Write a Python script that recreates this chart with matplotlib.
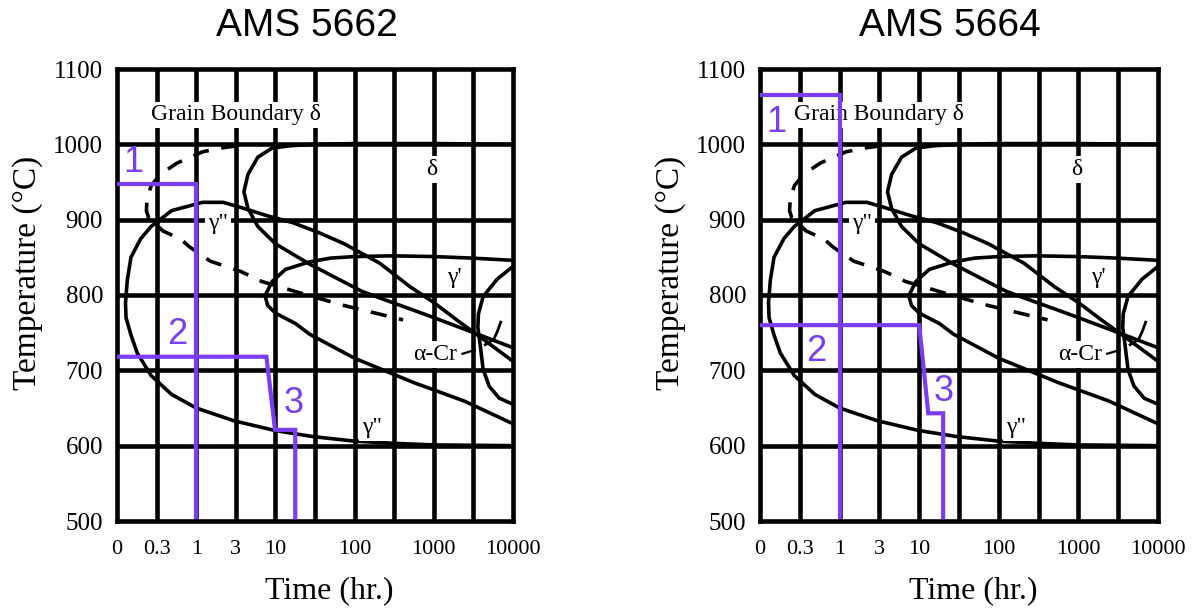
import matplotlib
matplotlib.use("Agg")
import matplotlib.pyplot as plt
from matplotlib.ticker import NullLocator

# ---------------- data ----------------
titles = ["AMS 5662", "AMS 5664"]

x_ticks = [0.1, 0.316, 1, 3.16, 10, 100, 1000, 10000]
x_tick_labels = ["0", "0.3", "1", "3", "10", "100", "1000", "10000"]
x_grid = [0.316, 1, 3.16, 10, 31.6, 100, 316, 1000, 3162]
y_ticks = [500, 600, 700, 800, 900, 1000, 1100]
y_grid = [600, 700, 800, 900, 1000]

# gamma'' C-curve (time hr, temperature C)
gpp_t = [10000, 1000, 330, 100, 30, 10, 3, 1, 0.49, 0.27, 0.18, 0.15, 0.13, 0.128,
         0.135, 0.15, 0.2, 0.27, 0.49, 1.2, 2.2, 3.7, 8, 16.6, 35, 74, 209, 500,
         1000, 2000, 4000, 10000]
gpp_T = [600, 601, 603, 606, 612, 620, 633, 650, 668, 693, 723, 747, 770, 790,
         820, 850, 875, 891, 912, 923, 923, 916, 905, 896, 883, 868, 842, 811,
         790, 766, 743, 712]

# delta curve
delta_t = [10000, 1000, 100, 30, 15, 9.1, 6.0, 4.5, 4.0, 4.5, 6.0, 10, 27, 123,
           209, 550, 1000, 2000, 4000, 10000]
delta_T = [1000, 1001, 1001, 1000, 998, 995, 983, 960, 937, 915, 891, 868, 841,
           805, 796, 780, 770, 758, 746, 730]

# gamma' curve
gp_t = [10000, 3000, 1000, 300, 100, 50, 27, 13.4, 9.1, 7.4, 8, 10, 18, 27, 100,
        550, 2450, 10000]
gp_T = [846, 849, 851, 852, 851, 849, 844, 834, 818, 799, 786, 776, 762, 748, 716,
        684, 659, 629]

# grain boundary delta (dashed)
gb_t = [3.3, 2.0, 1.2, 0.57, 0.35, 0.27, 0.24, 0.235, 0.25, 0.29, 0.38, 0.64,
        0.82, 1.5, 3.7, 6.7, 27, 74, 410]
gb_T = [998, 995, 990, 975, 960, 945, 928, 912, 903, 897, 885, 874, 864, 845,
        831, 818, 799, 786, 767]

# alpha-Cr curve
acr_t = [10000, 6300, 4200, 3660, 3600, 3850, 4200, 5000, 6700, 10000]
acr_T = [838, 821, 798, 775, 757, 734, 701, 679, 663, 655]
hook_t = [7000, 6370, 5710, 4460]
hook_T = [764, 752, 741, 734]
leader_t = [2300, 3300]
leader_T = [722, 727]

# phase labels: (text, time, temperature)
phase_labels = [("Grain Boundary δ", 3.15, 1039),
                ("δ", 950, 967),
                ("γ\"", 1.9, 895),
                ("γ'", 1800, 823),
                ("α-Cr", 1036, 721),
                ("γ\"", 166, 624)]

# heat-treatment paths
ams5662_step1_t = [0.1, 1, 1]
ams5662_step1_T = [947, 947, 505]
ams5662_step2_t = [0.1, 7.7, 9.9, 17.8, 17.8]
ams5662_step2_T = [718, 718, 621, 621, 505]
ams5662_nums = [("1", 0.162, 976), ("2", 0.58, 748), ("3", 16.8, 656)]

ams5664_step1_t = [0.1, 1, 1]
ams5664_step1_T = [1066, 1066, 505]
ams5664_step2_t = [0.1, 10, 13, 20, 20]
ams5664_step2_T = [760, 760, 643, 643, 505]
ams5664_nums = [("1", 0.159, 1029), ("2", 0.515, 725), ("3", 20, 672)]

# ---------------- drawing ----------------
SERIF = ["Liberation Serif", "DejaVu Serif"]
SANS = ["Liberation Sans", "DejaVu Sans"]
PURPLE = "#7a3cf4"

fig = plt.figure(figsize=(11.94, 6.11), dpi=100)
H = 611.0
W = 1194.0
ax_bottom = (H - 521) / H
ax_height = 452 / H
axes = [fig.add_axes([117 / W, ax_bottom, 396 / W, ax_height]),
        fig.add_axes([760 / W, ax_bottom, 398 / W, ax_height])]

paths = [(ams5662_step1_t, ams5662_step1_T, ams5662_step2_t, ams5662_step2_T, ams5662_nums),
         (ams5664_step1_t, ams5664_step1_T, ams5664_step2_t, ams5664_step2_T, ams5664_nums)]
title_x = [0.48, 0.477]

for ax, title, tx, (s1t, s1T, s2t, s2T, nums) in zip(axes, titles, title_x, paths):
    ax.set_xscale("log")
    ax.set_xlim(0.1, 10000)
    ax.set_ylim(500, 1100)

    for x in x_grid:
        ax.axvline(x, color="black", lw=3.3, zorder=1)
    for y in y_grid:
        ax.axhline(y, color="black", lw=3.3, zorder=1)

    curve_kw = dict(color="black", lw=2.6, zorder=2, solid_capstyle="round")
    ax.plot(gpp_t, gpp_T, **curve_kw)
    ax.plot(delta_t, delta_T, **curve_kw)
    ax.plot(gp_t, gp_T, **curve_kw)
    ax.plot(acr_t, acr_T, **curve_kw)
    ax.plot(hook_t, hook_T, color="black", lw=2.0, zorder=2)
    ax.plot(leader_t, leader_T, color="black", lw=1.6, zorder=4)
    ax.plot(gb_t, gb_T, color="black", lw=2.6, zorder=2,
            linestyle=(0, (4.5, 3.5)))

    for txt, t, T in phase_labels:
        ax.text(t, T, txt, fontsize=17, family=SERIF, ha="center", va="center",
                zorder=3,
                bbox=dict(boxstyle="square,pad=0.12", fc="white", ec="none"))

    ax.plot(s1t, s1T, color=PURPLE, lw=3.0, zorder=6, solid_joinstyle="miter")
    ax.plot(s2t, s2T, color=PURPLE, lw=3.0, zorder=6, solid_joinstyle="miter")
    for txt, t, T in nums:
        ax.text(t, T, txt, fontsize=26, family=SANS, color=PURPLE,
                ha="center", va="center", zorder=7)

    for sp in ax.spines.values():
        sp.set_linewidth(3.3)
        sp.set_color("black")
        sp.set_zorder(5)

    ax.set_xticks(x_ticks)
    ax.set_xticklabels(x_tick_labels)
    ax.xaxis.set_minor_locator(NullLocator())
    ax.set_yticks(y_ticks)
    ax.tick_params(axis="both", length=0)
    ax.tick_params(axis="x", pad=14)
    ax.tick_params(axis="y", pad=10)
    for lab in ax.get_xticklabels():
        lab.set_fontfamily(SERIF)
        lab.set_fontsize(16)
    for lab in ax.get_yticklabels():
        lab.set_fontfamily(SERIF)
        lab.set_fontsize(18)

    ax.set_xlabel("Time (hr.)", fontsize=23, family=SERIF)
    ax.xaxis.set_label_coords(0.535, -0.123)
    ax.set_ylabel("Temperature (°C)", fontsize=24, family=SERIF)
    ax.yaxis.set_label_coords(-0.187, 0.549)

    ax.text(tx, 1.073, title, transform=ax.transAxes, fontsize=28,
            family=SANS, ha="center", va="baseline")

fig.savefig("out.png", dpi=100, facecolor="white")
